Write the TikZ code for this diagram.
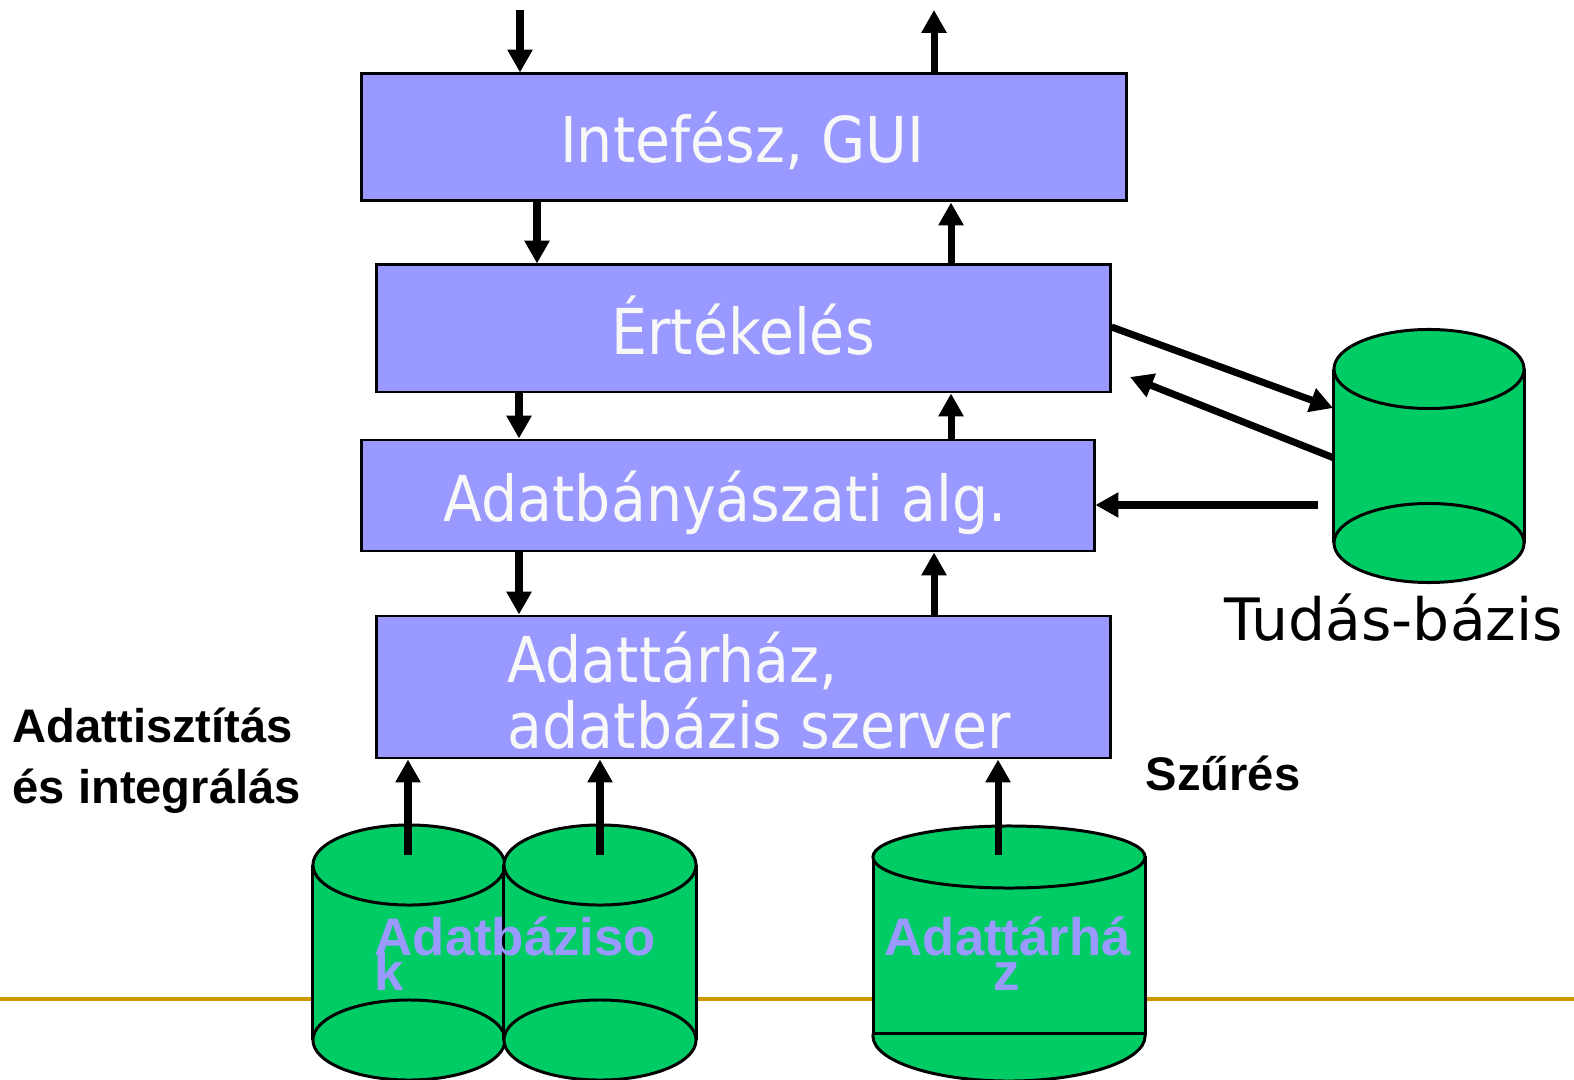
\documentclass[tikz,border=0pt]{standalone}
\usepackage{fontspec}
\setmainfont{DejaVu Sans}
\newfontfamily\layerfont{DejaVu Sans}[FakeStretch=0.9]
\newfontfamily\kbfont{DejaVu Sans}
\newfontfamily\arialfont{Liberation Sans}
\usetikzlibrary{arrows.meta,fit,calc}

\definecolor{layerblue}{RGB}{153,153,255}
\definecolor{dbgreen}{RGB}{0,204,102}
\definecolor{rulegold}{RGB}{204,153,0}
\definecolor{paletext}{RGB}{248,248,248}

% Cylinder with both end ellipses fully outlined
% #1 centre x, #2 top centre y, #3 bottom centre y, #4 x radius (cm), #5 y radius (cm)
\newcommand\drumshape[5]{%
  \fill[dbgreen] (#1,#2) ++(-#4,0) rectangle ($(#1,#3)+(#4,0)$);
  \draw[cylline] (#1,#2) ++(-#4,0) -- ++(0,#3-#2);
  \draw[cylline] (#1,#2) ++(#4,0) -- ++(0,#3-#2);
  \draw[cylline, fill=dbgreen] (#1,#3) ellipse [x radius=#4, y radius=#5];
  \draw[cylline, fill=dbgreen] (#1,#2) ellipse [x radius=#4, y radius=#5];
}

\begin{document}
\begin{tikzpicture}[x=0.01cm, y=-0.01cm,
  layer/.style={draw=black, line width=0.85pt, fill=layerblue, inner sep=0pt},
  layertext/.style={text=paletext, inner sep=0pt,
    font=\layerfont\fontsize{18}{18}\selectfont},
  cylline/.style={draw=black, line width=0.85pt},
  arr/.style={line width=2pt, -{Triangle[length=6.5pt, width=6.8pt]}},
  dblabel/.style={text=layerblue, inner sep=0pt,
    font=\arialfont\bfseries\fontsize{15}{15}\selectfont},
  sidelabel/.style={text=black, inner sep=0pt,
    font=\arialfont\bfseries\fontsize{13.4}{13.4}\selectfont},
]
\useasboundingbox (0,0) rectangle (1574,1080);

% horizontal rule behind the data sources
\coordinate (ruleL) at (0,999);
\coordinate (ruleR) at (1574,999);
\draw[rulegold, line width=1.1pt] (ruleL) -- (ruleR);

% layered architecture
\node[layer, fit={(361,74) (1126,201)}] (gui) {};
\node[layer, fit={(376,265) (1110,392)}] (ert) {};
\node[layer, fit={(361,440) (1094,551)}] (alg) {};
\node[layer, fit={(376,616) (1110,758)}] (dw) {};

\node[layertext, anchor=base] (guitext) at (742,163) {Intefész, GUI};
\node[layertext, anchor=base] (erttext) at (743,355) {Értékelés};
\node[layertext, anchor=base] (algtext) at (725,522) {Adatbányászati alg.};
\node[layertext, anchor=base west] (dwtextA) at (507,682) {Adattárház,};
\node[layertext, anchor=base west] (dwtextB) at (507,748) {adatbázis szerver};

% knowledge base
\drumshape{1429}{369}{543}{0.95cm}{0.395cm}
\coordinate (kbIn) at (1333,408);
\coordinate (kbOut) at (1334,458);
\coordinate (kbOut2) at (1318,505);
\node[anchor=base west, inner sep=0pt, font=\kbfont\fontsize{16.6}{16.6}\selectfont]
  (kbtext) at (1224,640) {Tudás-bázis};

% data sources
\drumshape{409}{865}{1040}{0.96cm}{0.40cm}
\drumshape{600}{865}{1040}{0.96cm}{0.40cm}
% data warehouse: bottom ellipse behind an outlined body
\draw[cylline, fill=dbgreen] (1009,1036) ellipse [x radius=1.36cm, y radius=0.45cm];
\draw[cylline, fill=dbgreen] (873,857) rectangle (1145,1033);
\draw[cylline, fill=dbgreen] (1009,857) ellipse [x radius=1.36cm, y radius=0.31cm];

\coordinate (srcA) at (408,855);
\coordinate (srcB) at (600,855);
\coordinate (srcC) at (998,855);

% vertical flow columns
\coordinate (colIn) at (520,10);
\coordinate (colOut) at (934,10);
\coordinate (c1) at (537,0);
\coordinate (c2) at (951,0);
\coordinate (c3) at (519,0);

\draw[arr] (colIn) -- (colIn |- gui.north);
\draw[arr] (colOut |- gui.north) -- (colOut);
\draw[arr] (gui.south -| c1) -- (ert.north -| c1);
\draw[arr] (ert.north -| c2) -- (gui.south -| c2);
\draw[arr] (ert.south -| c3) -- (alg.north -| c3);
\draw[arr] (alg.north -| c2) -- (ert.south -| c2);
\draw[arr] (alg.south -| c3) -- (dw.north -| c3);
\draw[arr] (dw.north -| colOut) -- (alg.south -| colOut);

\draw[arr] (srcA) -- (srcA |- dw.south);
\draw[arr] (srcB) -- (srcB |- dw.south);
\draw[arr] (srcC) -- (srcC |- dw.south);

% exchange with the knowledge base
\draw[arr] (ert.east |- 0,327) -- (kbIn);
\draw[arr] (kbOut) -- (1130,377);
\draw[arr] (kbOut2) -- (kbOut2 -| alg.east);

% labels on the data stores
\node[dblabel, anchor=base west] (dbtextA) at (374,955) {Adatbáziso};
\node[dblabel, anchor=base west] (dbtextB) at (374,990) {k};
\node[dblabel, anchor=base west] (dwsA) at (884,955) {Adattárhá};
\node[dblabel, anchor=base] (dwsB) at (1007,990) {z};

% process labels
\node[sidelabel, anchor=base west] (cleanA) at (12,742) {Adattisztítás};
\node[sidelabel, anchor=base west] (cleanB) at (12,803) {és integrálás};
\node[sidelabel, anchor=base west] (filter) at (1145,790) {Szűrés};
\end{tikzpicture}
\end{document}
